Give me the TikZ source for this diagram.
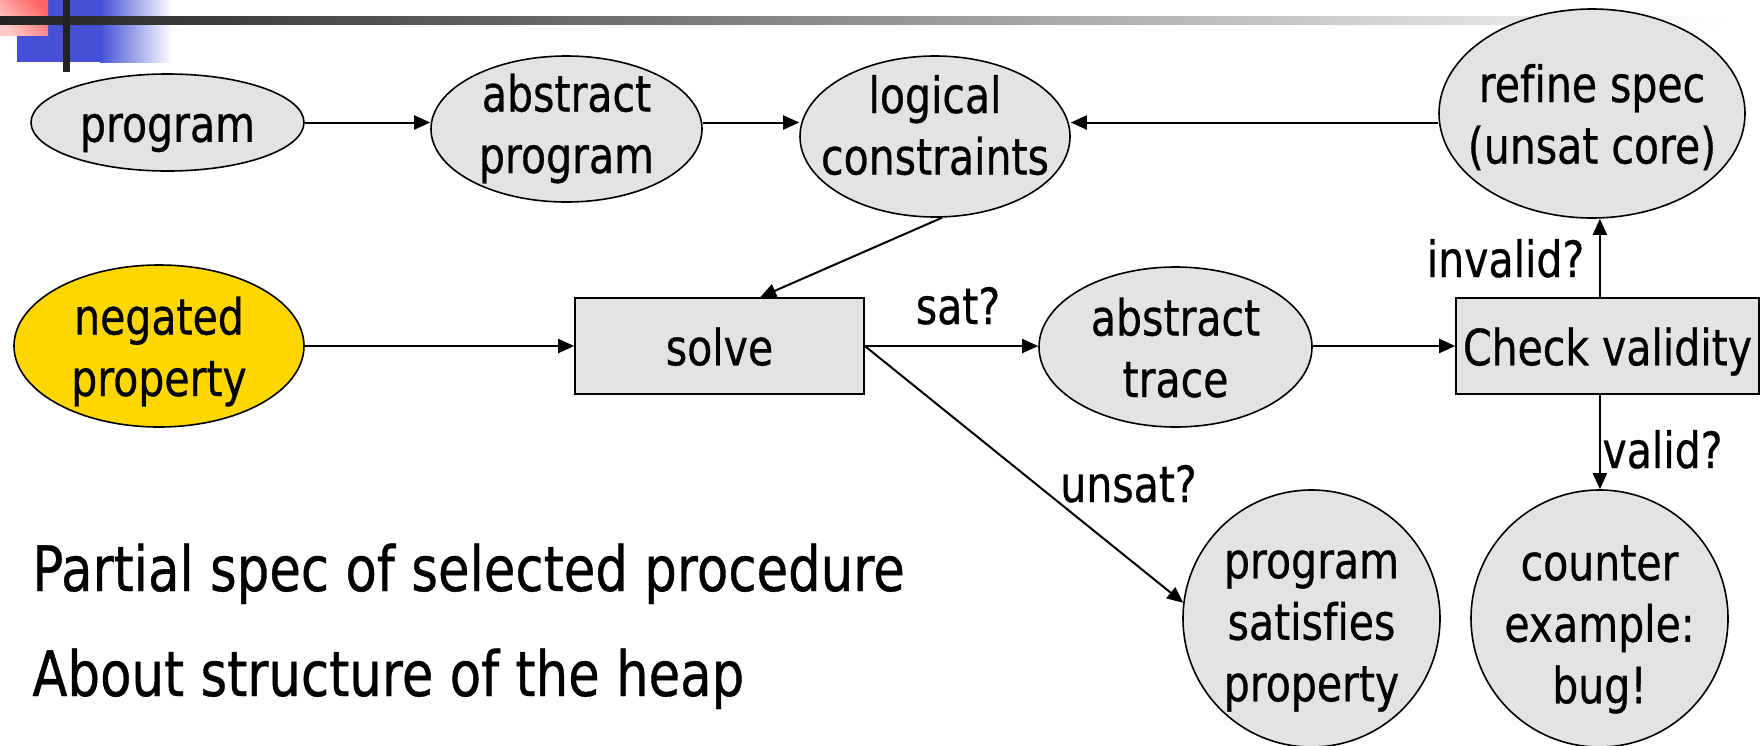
\documentclass[tikz,border=0pt]{standalone}
\usepackage{fontspec}
\setmainfont{DejaVu Sans}[FakeStretch=0.82, FakeBold=0.6, Ligatures=CommonOff]
\usetikzlibrary{shapes.geometric, arrows.meta, calc}

\definecolor{nodegray}{HTML}{E3E3E3}
\definecolor{propyellow}{HTML}{FFD700}
\definecolor{bandblue}{HTML}{4450D6}
\definecolor{barink}{HTML}{222222}
\definecolor{redpale}{HTML}{FFCACA}
\definecolor{redstrong}{HTML}{FF6464}

% invisible strut: 0.98em above and 0.21em below the baseline
\newcommand\linestrut{\rule[-0.21em]{0pt}{1.19em}}

\tikzset{
  ell/.style={ellipse, draw, line width=0.8pt, fill=nodegray, inner sep=0pt},
  boxnode/.style={rectangle, draw, line width=0.8pt, fill=nodegray, inner sep=0pt},
  nodetext/.style={align=center, inner sep=0pt, font=\fontsize{25pt}{28.5pt}\selectfont},
  edgelabel/.style={anchor=base, inner sep=0pt, font=\fontsize{25pt}{28.5pt}\selectfont},
  bigtext/.style={anchor=base west, inner sep=0pt, font=\fontsize{31.3pt}{36pt}\selectfont},
  arr/.style={line width=1pt, -{Triangle[length=8pt,width=7pt]}},
}

\begin{document}
\begin{tikzpicture}[x=0.5pt, y=-0.5pt]
\useasboundingbox (0,0) rectangle (1760,745);

% title-bar ornament
\fill[bandblue] (17,0) rectangle (100,62);
\shade[left color=bandblue, right color=white] (100,0) rectangle (172,62);
\shade[bottom color=redpale, top color=redstrong, shading angle=-45] (0,0) rectangle (48,35);
\shade[left color=barink, right color=white] (0,16) rectangle (1725,24);
\fill[barink] (63,0) rectangle (70,72);

% nodes
\node[ell, minimum width=136.5pt, minimum height=48.5pt] (prog) at (167.5,122.5) {};
\node[nodetext] (prog-t) at (prog) {\linestrut program};

\node[ell, minimum width=135.5pt, minimum height=73pt] (abs) at (566.5,129) {};
\node[nodetext] (abs-t) at ($(abs)+(0,-6)$) {\linestrut abstract\\\linestrut program};

\node[ell, minimum width=135pt, minimum height=80.5pt] (lc) at (935,136.5) {};
\node[nodetext] (lc-t) at ($(lc)+(0,-12)$) {\linestrut logical\\\linestrut constraints};

\node[ell, minimum width=153pt, minimum height=104.5pt] (ref) at (1592,113.5) {};
\node[nodetext] (ref-t) at (ref) {\linestrut refine spec\\\linestrut (unsat core)};

\node[ell, fill=propyellow, minimum width=145pt, minimum height=81pt] (neg) at (159,346) {};
\node[nodetext] (neg-t) at (neg) {\linestrut negated\\\linestrut property};

\node[boxnode, minimum width=144.5pt, minimum height=48pt] (solve) at (719.5,346) {};
\node[nodetext] (solve-t) at (solve) {\linestrut solve};

\node[ell, minimum width=136.5pt, minimum height=80pt] (trace) at (1175.5,347) {};
\node[nodetext] (trace-t) at (trace) {\linestrut abstract\\\linestrut trace};

\node[boxnode, minimum width=151.5pt, minimum height=48pt] (check) at (1607.5,346) {};
\node[nodetext] (check-t) at (check) {\linestrut Check validity};

\node[ell, minimum width=128.5pt, minimum height=128.5pt] (ps) at (1311.5,618.5) {};
\node[nodetext] (ps-t) at ($(ps)+(0,2)$) {\linestrut program\\\linestrut satisfies\\\linestrut property};

\node[ell, minimum width=128.5pt, minimum height=128.5pt] (ce) at (1599.5,618.5) {};
\node[nodetext] (ce-t) at ($(ce)+(0,4)$) {\linestrut counter\\\linestrut example:\\\linestrut bug!};

% edge labels
\node[edgelabel] (l-sat) at (958,324) {sat?};
\node[edgelabel] (l-unsat) at (1128.5,502) {unsat?};
\node[edgelabel] (l-invalid) at (1505.5,277) {invalid?};
\node[edgelabel] (l-valid) at (1662.5,468) {valid?};

% notes
\node[bigtext] (note1) at (32,591) {Partial spec of selected procedure};
\node[bigtext] (note2) at (32,696) {About structure of the heap};

% connectors
\draw[arr] (prog.east) -- (prog.east -| abs.west);
\draw[arr] (abs.east |- prog.east) -- (lc.west |- prog.east);
\draw[arr] (ref.west |- prog.east) -- (lc.east |- prog.east);
\draw[arr] (lc.275) -- ($(solve.north west)!0.64!(solve.north east)$);
\draw[arr] (neg.east) -- (solve.west);
\draw[arr] (solve.east) -- (solve.east -| trace.west);
\draw[arr] (solve.east) -- (ps.173);
\draw[arr] (trace.east |- solve.east) -- (solve.east -| check.west);
\coordinate (cv) at ($(check.north west)!0.475!(check.north east)$);
\draw[arr] (cv) -- (cv |- ref.south);
\draw[arr] (cv |- check.south) -- (cv |- ce.north);
\end{tikzpicture}
\end{document}
